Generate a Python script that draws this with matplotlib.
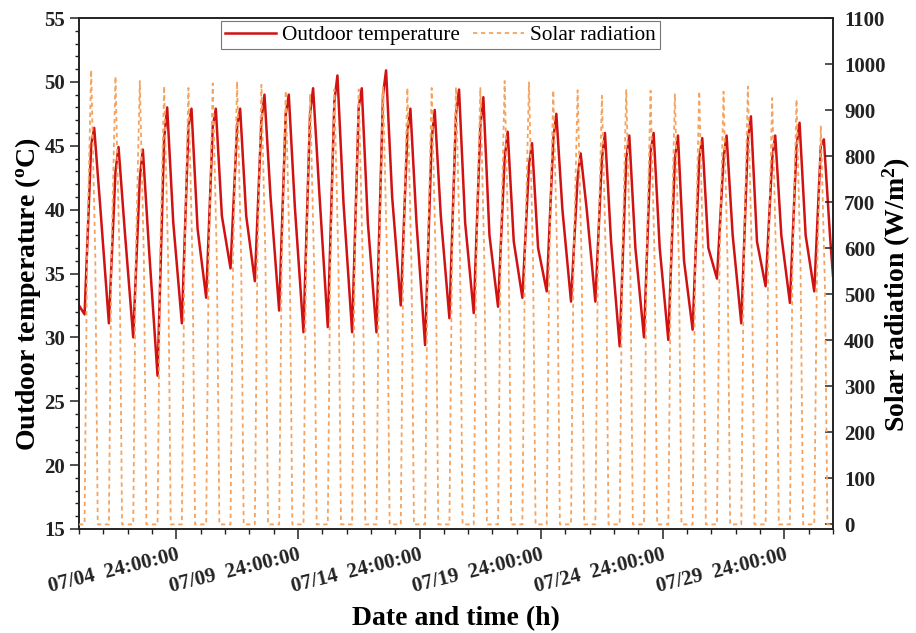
import numpy as np
import matplotlib
matplotlib.use("Agg")
import matplotlib.pyplot as plt
from matplotlib.ticker import MultipleLocator

plt.rcParams['font.family'] = ['Liberation Serif', 'DejaVu Serif']
plt.rcParams['mathtext.fontset'] = 'custom'
plt.rcParams['mathtext.rm'] = 'Liberation Serif'
plt.rcParams['mathtext.bf'] = 'Liberation Serif:bold'

# ---- daily readings, 07/01 .. 07/31 (day index 0..30) ----
# outdoor temperature (degC) at fixed hours of each day
temp_hours = [5.5, 12.0, 15.0, 21.0]
t_min = [31.8, 31.1, 30.0, 27.0, 31.1, 33.1, 35.4, 34.4, 32.1, 30.4, 30.8,
         30.4, 30.4, 32.5, 29.4, 31.5, 31.9, 32.4, 33.1, 33.6, 32.8, 32.8,
         29.3, 30.0, 29.8, 30.6, 34.6, 31.1, 34.0, 32.7, 33.6]
t_noon = [45.0, 43.0, 42.5, 45.5, 46.5, 46.5, 46.5, 47.0, 47.5, 47.5, 48.5,
          48.0, 49.0, 46.0, 45.5, 47.5, 46.5, 44.0, 43.5, 45.5, 42.5, 44.0,
          44.0, 44.5, 44.0, 44.0, 44.0, 45.5, 44.0, 45.0, 45.0]
t_max = [46.4, 44.9, 44.7, 48.0, 47.9, 47.9, 47.9, 49.0, 49.0, 49.5, 50.5,
         49.5, 50.9, 47.9, 47.8, 49.4, 48.8, 46.1, 45.2, 47.5, 44.4, 46.0,
         45.8, 46.0, 45.8, 45.6, 45.8, 47.3, 45.8, 46.8, 45.5]
t_eve = [40.2, 38.5, 37.0, 39.0, 38.5, 39.5, 39.5, 41.0, 40.2, 41.5, 40.5,
         39.0, 41.0, 39.0, 39.5, 39.0, 38.0, 37.5, 37.0, 40.0, 40.0, 37.5,
         37.0, 37.0, 36.0, 37.0, 38.0, 37.5, 38.0, 38.0, 38.0]
t_start, t_end = 32.5, 34.8

# solar radiation (W/m2) at fixed hours of each day
solar_hours = [5.5, 8.0, 12.0, 16.0, 18.5]
s_am = [592, 584, 578, 571, 569, 575, 577, 573, 565, 561, 567, 567, 570,
        569, 569, 570, 569, 578, 576, 566, 566, 559, 567, 565, 562, 565,
        564, 571, 556, 554, 520]
s_peak = [987, 973, 963, 952, 948, 958, 962, 955, 942, 935, 945, 945, 950,
          948, 948, 950, 948, 963, 960, 943, 943, 931, 945, 942, 936, 941,
          940, 951, 926, 923, 866]
s_pm = [590, 583, 579, 570, 568, 574, 578, 572, 566, 560, 566, 568, 569,
        568, 570, 571, 568, 577, 575, 565, 567, 558, 566, 566, 561, 564,
        565, 570, 557, 553, 521]

tick_days = [4, 9, 14, 19, 24, 29]
tick_labels = ["07/04  24:00:00", "07/09  24:00:00", "07/14  24:00:00",
               "07/19  24:00:00", "07/24  24:00:00", "07/29  24:00:00"]

n_days = len(t_max)
days = np.arange(n_days)

# assemble time series (time in days since 07/01 00:00)
temp_vals = np.column_stack([t_min, t_noon, t_max, t_eve])
temp_x = days[:, None] + np.array(temp_hours)[None, :] / 24.0
tx = np.concatenate([[0.0], temp_x.ravel(), [float(n_days)]])
ty = np.concatenate([[t_start], temp_vals.ravel(), [t_end]])

zeros = np.zeros(n_days)
solar_vals = np.column_stack([zeros, s_am, s_peak, s_pm, zeros])
solar_x = days[:, None] + np.array(solar_hours)[None, :] / 24.0
sx = np.concatenate([[0.0], solar_x.ravel(), [float(n_days)]])
sy = np.concatenate([[0.0], solar_vals.ravel(), [0.0]])

# ---- figure ----
W, H = 916, 633
fig = plt.figure(figsize=(W / 100, H / 100), dpi=100)
L, R, T, B = 79, 833, 18, 529
ax = fig.add_axes([L / W, 1 - B / H, (R - L) / W, (B - T) / H])
ax2 = ax.twinx()

l1, = ax.plot(tx, ty, color='#D01212', lw=1.8, label='Outdoor temperature',
              zorder=2, solid_joinstyle='round')
l2, = ax2.plot(sx, sy, color='#F4A460', lw=1.3, ls=(0, (2.4, 2.0)),
               label='Solar radiation', zorder=3)

ax.set_xlim(0, n_days)
ax.set_ylim(15, 55)
ax2.set_ylim(-10, 1100)

ax.set_yticks(np.arange(15, 56, 5))
ax.yaxis.set_minor_locator(MultipleLocator(1))
ax2.set_yticks(np.arange(0, 1101, 100))

ax.set_xticks(tick_days)
ax.set_xticks(np.arange(0, n_days + 1), minor=True)
ax.set_xticklabels(tick_labels, rotation=14, ha='right', va='top',
                   rotation_mode='anchor', fontweight='bold', fontsize=15)

for lab in ax.get_yticklabels() + ax2.get_yticklabels():
    lab.set_fontweight('bold')

ax.tick_params(axis='x', which='major', direction='out', length=7.2,
               width=1.1, pad=4, colors='#222222')
ax.tick_params(axis='x', which='minor', direction='out', length=3.6,
               width=1.0, colors='#222222')
ax.tick_params(axis='y', which='major', direction='out', length=6.5,
               width=1.1, labelsize=15, pad=3.5, colors='#222222')
ax.tick_params(axis='y', which='minor', direction='out', length=3.0,
               width=1.0, colors='#222222')
ax2.tick_params(axis='y', which='major', direction='in', length=5.8,
                width=1.1, labelsize=15, pad=8, colors='#222222')

for a in (ax, ax2):
    for sp in a.spines.values():
        sp.set_linewidth(1.2)
        sp.set_color('#222222')

ax.set_xlabel('Date and time (h)', fontsize=20, fontweight='bold')
ax.xaxis.set_label_coords(0.5, -0.151)
ax.set_ylabel(r'Outdoor temperature ($\mathregular{^{o}}$C)', fontsize=20,
              fontweight='bold')
ax.yaxis.set_label_coords(-0.048, 0.459)
ax2.set_ylabel(r'Solar radiation (W/m$\mathregular{^{2}}$)', fontsize=20,
               fontweight='bold', rotation=90)
ax2.yaxis.set_label_coords(1.063, 0.459)

leg = ax2.legend(handles=[l1, l2], loc='upper center',
                 bbox_to_anchor=(0.4794, 0.994), ncol=2, fontsize=15.3,
                 frameon=True, fancybox=False, handlelength=2.4,
                 handletextpad=0.3, columnspacing=0.6, borderpad=0.2,
                 borderaxespad=0.0)
leg.get_frame().set_edgecolor('#555555')
leg.get_frame().set_linewidth(0.8)

fig.savefig('out.png', dpi=100)
